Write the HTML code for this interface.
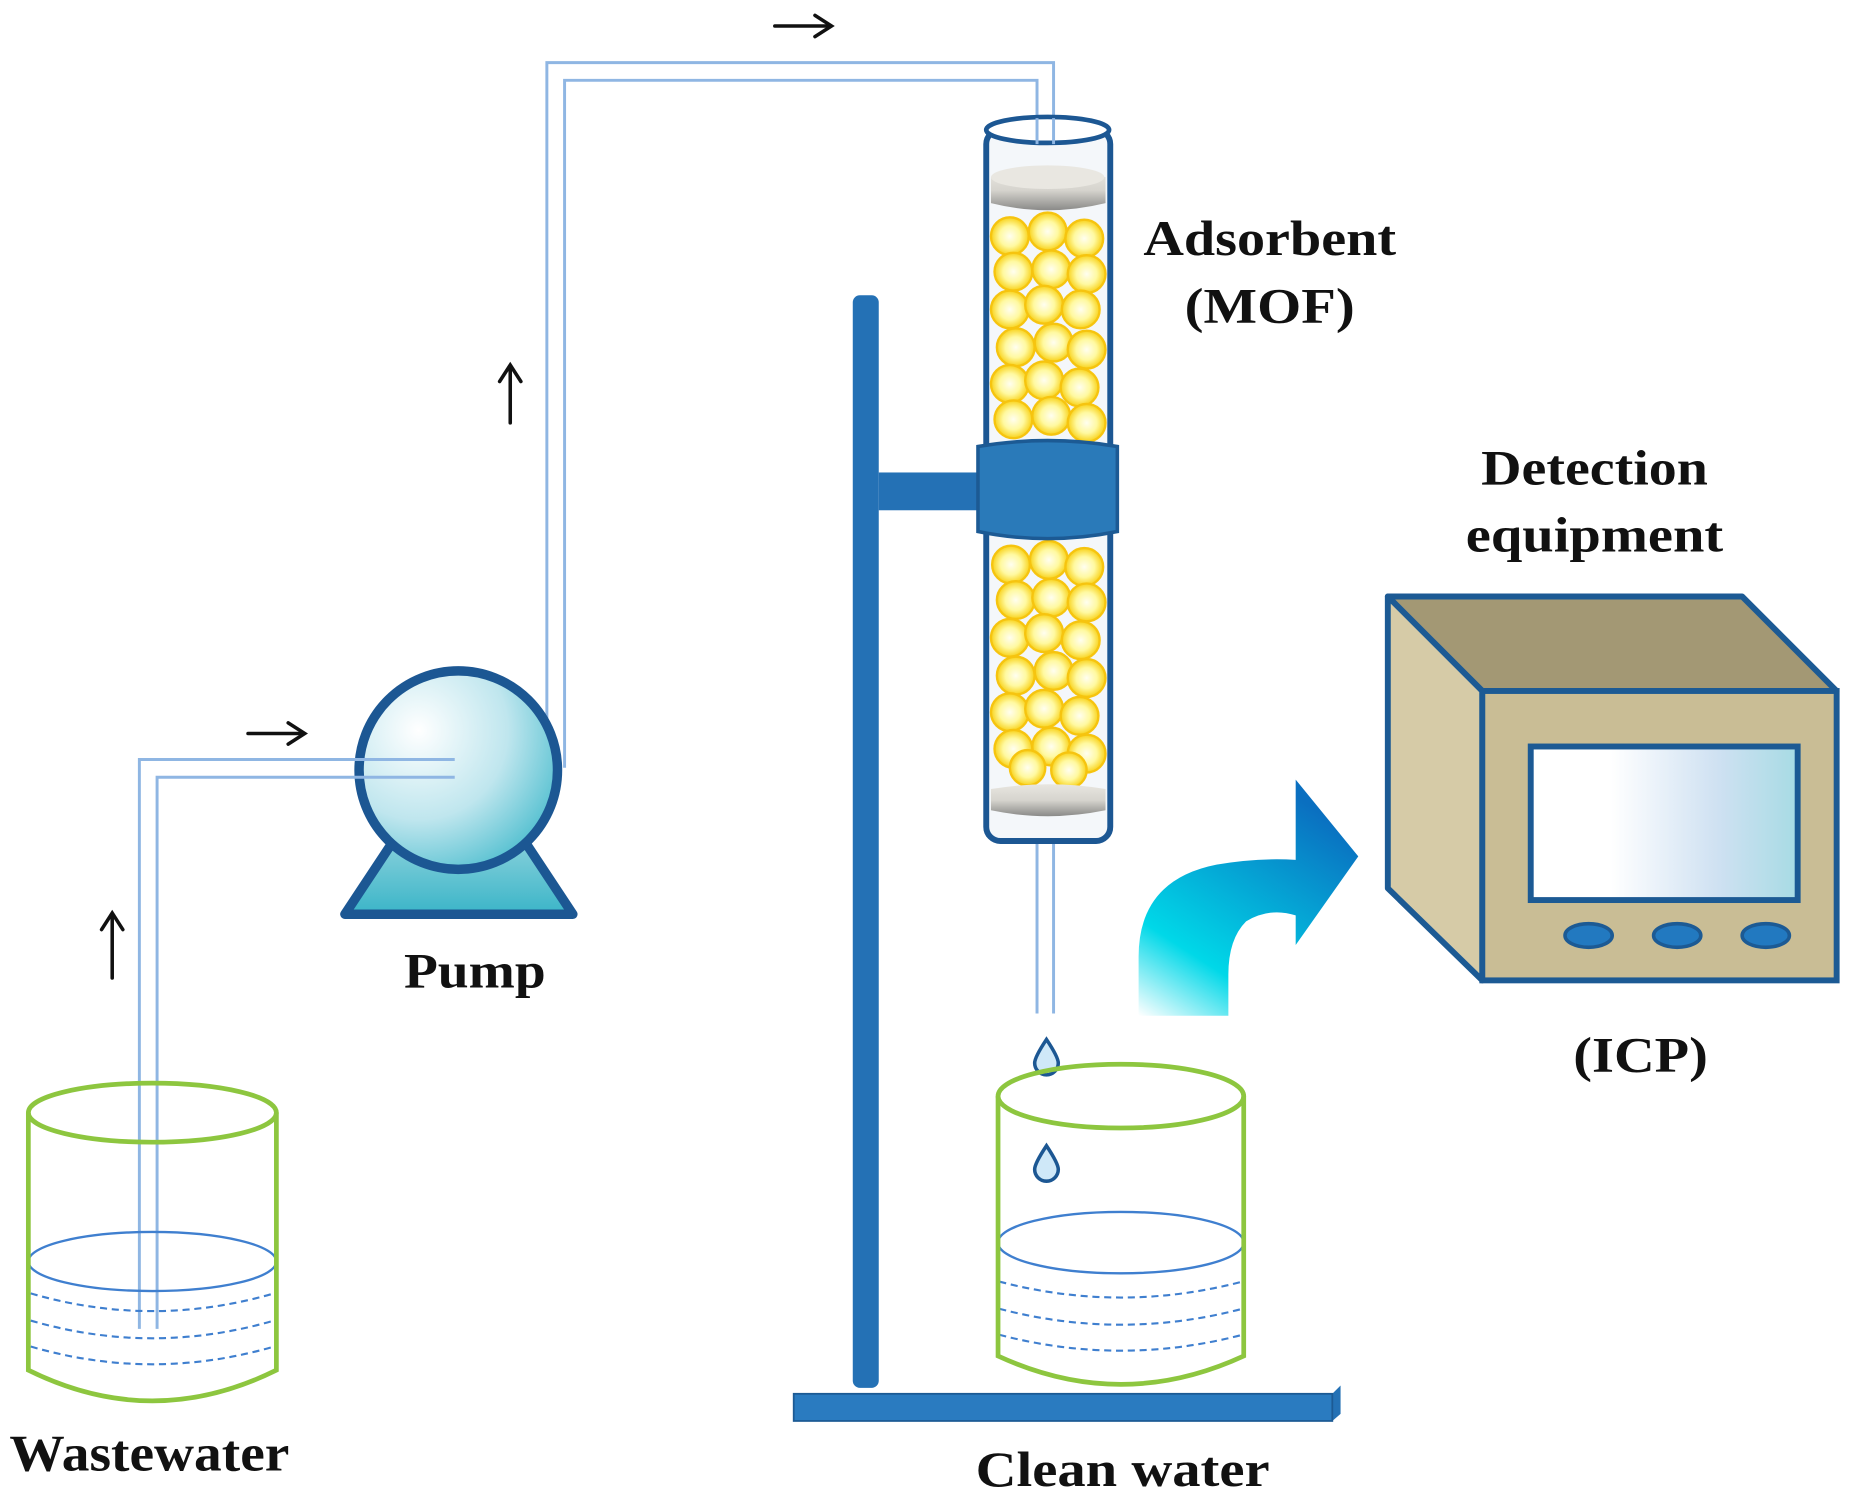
<!DOCTYPE html>
<html><head><meta charset="utf-8"><style>
html,body{margin:0;padding:0;background:#fff;width:1852px;height:1506px;overflow:hidden}
svg{display:block}
text{font-family:"Liberation Serif",serif;font-weight:bold;fill:#111}
</style></head><body>
<svg width="1852" height="1506" viewBox="0 0 1568 1275" preserveAspectRatio="none">
<defs>
<radialGradient id="pg" cx="0.3" cy="0.3" r="0.9"><stop offset="0" stop-color="#fff"/><stop offset="0.5" stop-color="#bfe6ee"/><stop offset="1" stop-color="#2fb3c6"/></radialGradient>
<linearGradient id="tg" x1="0" y1="0" x2="0" y2="1"><stop offset="0" stop-color="#8fd3dd"/><stop offset="1" stop-color="#3bb5c8"/></linearGradient>
<radialGradient id="ball" cx="0.5" cy="0.5" r="0.5"><stop offset="0" stop-color="#fffef0"/><stop offset="0.55" stop-color="#fff9a0"/><stop offset="1" stop-color="#f8d21a"/></radialGradient>
<linearGradient id="disc" x1="0" y1="0" x2="0" y2="1"><stop offset="0" stop-color="#e8e6e0"/><stop offset="0.5" stop-color="#d6d4ce"/><stop offset="1" stop-color="#8a8a88"/></linearGradient>
<linearGradient id="arr" x1="0" y1="1" x2="0.6" y2="0"><stop offset="0" stop-color="#ffffff"/><stop offset="0.3" stop-color="#00d8e8"/><stop offset="1" stop-color="#0a6fc0"/></linearGradient>
<linearGradient id="scr" x1="0" y1="0" x2="1" y2="0"><stop offset="0.3" stop-color="#ffffff"/><stop offset="0.7" stop-color="#cfe1f2"/><stop offset="1" stop-color="#a7dbe4"/></linearGradient>
</defs>

<!-- tubes -->
<g fill="none" stroke="#8fb6e3" stroke-width="2.5">
<polyline points="463,650 463,53 892,53 892,122"/>
<polyline points="478,650 478,68 878,68 878,122"/>
<polyline points="118,1125 118,643 385,643"/>
<polyline points="133,1125 133,658 385,658"/>
<line x1="878" y1="712" x2="878" y2="858"/>
<line x1="892" y1="712" x2="892" y2="858"/>
</g>

<!-- arrows -->
<g stroke="#111" stroke-width="3" fill="none" stroke-linecap="round">
<line x1="656" y1="22" x2="703" y2="22"/><path d="M690,13 L704,22 L690,31"/>
<line x1="210" y1="621" x2="257" y2="621"/><path d="M244,612 L258,621 L244,630"/>
<line x1="432" y1="310" x2="432" y2="358"/><path d="M423,323 L432,309 L441,323"/>
<line x1="95" y1="774" x2="95" y2="828"/><path d="M86,787 L95,773 L104,787"/>
</g>

<!-- pump -->
<path d="M292,774 L485,774 L440,706 L337,706 Z" fill="url(#tg)" stroke="#1c5793" stroke-width="8" stroke-linejoin="round"/>
<circle cx="388" cy="652" r="84" fill="url(#pg)" stroke="#1c5793" stroke-width="8"/>
<g fill="none" stroke="#8fb6e3" stroke-width="2.5"><line x1="300" y1="643" x2="385" y2="643"/><line x1="300" y1="658" x2="385" y2="658"/></g>
<text x="342" y="836" font-size="42" textLength="120" lengthAdjust="spacingAndGlyphs">Pump</text>

<!-- wastewater beaker -->
<g fill="none">
<ellipse cx="129" cy="1068" rx="105" ry="25" stroke="#3f7fcf" stroke-width="2"/>
<g stroke="#3f7fcf" stroke-width="1.8" stroke-dasharray="6,4">
<path d="M26,1095 Q129,1125 232,1095"/><path d="M26,1118 Q129,1148 232,1118"/><path d="M26,1140 Q129,1170 232,1140"/>
</g>
<path d="M24,942 L24,1160 Q129,1212 234,1160 L234,942" stroke="#8dc63f" stroke-width="4"/>
<ellipse cx="129" cy="942" rx="105" ry="25" stroke="#8dc63f" stroke-width="4"/>
</g>
<text x="8" y="1245" font-size="44" textLength="237" lengthAdjust="spacingAndGlyphs">Wastewater</text>

<!-- stand -->
<rect x="722" y="250" width="22" height="925" rx="6" fill="#2471b5"/>
<path d="M672,1180 L1128,1180 L1135,1173 L1135,1197 L1128,1203 L672,1203 Z" fill="#2471b5"/>
<rect x="672" y="1180" width="456" height="23" fill="#2a7bc0" stroke="#1c5a94" stroke-width="1.5"/>
<rect x="744" y="400" width="88" height="32" fill="#2471b5"/>

<!-- column -->
<rect x="835" y="110" width="105" height="602" rx="12" fill="#f4f7fa" stroke="#1c5793" stroke-width="5"/>
<g fill="url(#ball)" stroke="#f6c40f" stroke-width="2">
<circle cx="855" cy="200" r="16"/><circle cx="887" cy="196" r="16"/><circle cx="918" cy="202" r="16"/>
<circle cx="858" cy="230" r="16"/><circle cx="890" cy="228" r="16"/><circle cx="920" cy="232" r="16"/>
<circle cx="855" cy="262" r="16"/><circle cx="884" cy="258" r="16"/><circle cx="915" cy="262" r="16"/>
<circle cx="860" cy="294" r="16"/><circle cx="892" cy="290" r="16"/><circle cx="920" cy="296" r="16"/>
<circle cx="855" cy="325" r="16"/><circle cx="884" cy="322" r="16"/><circle cx="914" cy="328" r="16"/>
<circle cx="858" cy="355" r="16"/><circle cx="890" cy="352" r="16"/><circle cx="920" cy="358" r="16"/>
<circle cx="856" cy="478" r="16"/><circle cx="888" cy="474" r="16"/><circle cx="918" cy="480" r="16"/>
<circle cx="860" cy="508" r="16"/><circle cx="890" cy="506" r="16"/><circle cx="920" cy="510" r="16"/>
<circle cx="855" cy="540" r="16"/><circle cx="884" cy="536" r="16"/><circle cx="915" cy="542" r="16"/>
<circle cx="860" cy="572" r="16"/><circle cx="892" cy="568" r="16"/><circle cx="920" cy="574" r="16"/>
<circle cx="855" cy="603" r="16"/><circle cx="884" cy="600" r="16"/><circle cx="914" cy="606" r="16"/>
<circle cx="858" cy="634" r="16"/><circle cx="890" cy="632" r="16"/><circle cx="920" cy="638" r="16"/>
<circle cx="870" cy="650" r="15"/><circle cx="905" cy="652" r="15"/>
</g>
<path d="M839,150 Q887,138 936,150 L936,172 Q887,184 839,172 Z" fill="url(#disc)"/>
<ellipse cx="887" cy="150" rx="48" ry="10" fill="#e9e7e1"/>
<path d="M839,668 Q887,660 936,668 L936,686 Q887,696 839,686 Z" fill="url(#disc)"/>
<ellipse cx="887" cy="110" rx="52" ry="11" fill="#fff" stroke="#1c5793" stroke-width="4"/>
<g stroke="#8fb6e3" stroke-width="2.5"><line x1="878" y1="100" x2="878" y2="122"/><line x1="892" y1="100" x2="892" y2="122"/></g>
<path d="M828,378 Q887,368 946,378 L946,450 Q887,462 828,450 Z" fill="#2a7ab9" stroke="#1c5a94" stroke-width="3"/>
<text x="968" y="216" font-size="42" textLength="214" lengthAdjust="spacingAndGlyphs">Adsorbent</text>
<text x="1003" y="273" font-size="42" textLength="144" lengthAdjust="spacingAndGlyphs">(MOF)</text>

<!-- drops -->
<g fill="#cfe8f8" stroke="#1c5793" stroke-width="3">
<path d="M886,880 Q876,895 876,900 A10,10 0 0 0 896,900 Q896,895 886,880 Z"/>
<path d="M886,970 Q876,985 876,990 A10,10 0 0 0 896,990 Q896,985 886,970 Z"/>
</g>

<!-- clean beaker -->
<g fill="none">
<ellipse cx="949" cy="1052" rx="104" ry="26" stroke="#3f7fcf" stroke-width="2"/>
<g stroke="#3f7fcf" stroke-width="1.8" stroke-dasharray="6,4">
<path d="M846,1085 Q949,1112 1052,1085"/><path d="M846,1108 Q949,1135 1052,1108"/><path d="M846,1130 Q949,1157 1052,1130"/>
</g>
<path d="M845,928 L845,1148 Q949,1196 1053,1148 L1053,928" stroke="#8dc63f" stroke-width="4"/>
<ellipse cx="949" cy="928" rx="104" ry="27" stroke="#8dc63f" stroke-width="4"/>
</g>
<text x="826" y="1258" font-size="42" textLength="249" lengthAdjust="spacingAndGlyphs">Clean water</text>

<!-- curved arrow -->
<path d="M964,860 L964,810 Q964,745 1030,732 Q1065,726 1097,728 L1097,660 L1150,725 L1097,800 L1097,775 Q1075,768 1055,780 Q1040,795 1040,825 L1040,860 Z" fill="url(#arr)"/>

<!-- detection box -->
<polygon points="1175,505 1475,505 1555,585 1255,585" fill="#a39874" stroke="#1c5a94" stroke-width="5" stroke-linejoin="round"/>
<polygon points="1175,505 1255,585 1255,830 1175,752" fill="#d6cba7" stroke="#1c5a94" stroke-width="5" stroke-linejoin="round"/>
<rect x="1255" y="585" width="300" height="245" fill="#c9bd95" stroke="#1c5a94" stroke-width="5"/>
<rect x="1296" y="632" width="226" height="130" fill="url(#scr)" stroke="#1c5a94" stroke-width="5"/>
<g fill="#2279c0" stroke="#1c5a94" stroke-width="3">
<ellipse cx="1345" cy="792" rx="20" ry="10"/><ellipse cx="1420" cy="792" rx="20" ry="10"/><ellipse cx="1495" cy="792" rx="20" ry="10"/>
</g>
<text x="1254" y="410" font-size="42" textLength="192" lengthAdjust="spacingAndGlyphs">Detection</text>
<text x="1241" y="467" font-size="42" textLength="218" lengthAdjust="spacingAndGlyphs">equipment</text>
<text x="1332" y="907" font-size="42" textLength="114" lengthAdjust="spacingAndGlyphs">(ICP)</text>
</svg>
</body></html>
